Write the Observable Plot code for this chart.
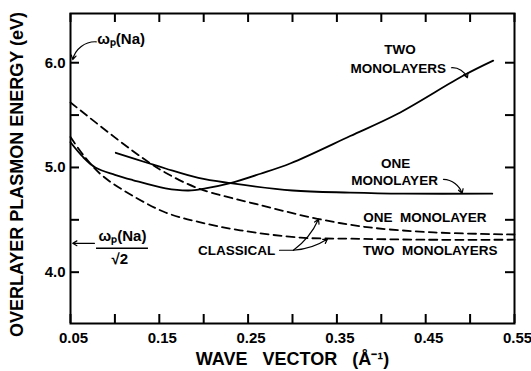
<!DOCTYPE html>
<html><head><meta charset="utf-8">
<script src="https://cdn.jsdelivr.net/npm/d3@7"></script>
<script src="https://cdn.jsdelivr.net/npm/@observablehq/plot@0.6"></script>
<style>body{margin:0;background:#fff}</style>
</head><body><div id="chart"></div>
<script>
// Quantum (solid) and classical (dashed) overlayer plasmon dispersion, [wave vector Å^-1, energy eV]
const quantumTwoMonolayers = [[0.05,5.24],[0.064,5.10],[0.078,5.00],[0.10,4.93],[0.12,4.88],[0.157,4.80],[0.183,4.78],[0.202,4.80],[0.23,4.85],[0.264,4.94],[0.298,5.04],[0.365,5.30],[0.418,5.51],[0.493,5.88],[0.526,6.02]];
const quantumOneMonolayer = [[0.101,5.14],[0.138,5.04],[0.157,4.99],[0.194,4.90],[0.23,4.85],[0.30,4.78],[0.365,4.76],[0.425,4.75],[0.525,4.75]];
const classicalOneMonolayer = [[0.05,5.62],[0.101,5.28],[0.138,5.05],[0.157,4.95],[0.194,4.80],[0.264,4.64],[0.328,4.51],[0.384,4.43],[0.459,4.38],[0.55,4.36]];
const classicalTwoMonolayers = [[0.05,5.29],[0.067,5.09],[0.086,4.92],[0.12,4.73],[0.157,4.57],[0.194,4.48],[0.241,4.40],[0.309,4.33],[0.365,4.32],[0.45,4.31],[0.55,4.31]];

const xTicks = [0.05,0.10,0.15,0.20,0.25,0.30,0.35,0.40,0.45,0.50,0.55];
const xTickLabels = [0.05,0.15,0.25,0.35,0.45,0.55];
const yTicks = [4.0,4.5,5.0,5.5,6.0];
const yTickLabels = [4.0,5.0,6.0];

// annotations (data coordinates)
const labels = [
  {text:"TWO", x:0.421, y:6.124},
  {text:"MONOLAYERS", x:0.419, y:5.943},
  {text:"ONE", x:0.416, y:5.038},
  {text:"MONOLAYER", x:0.415, y:4.876},
  {text:"ONE\u00a0\u00a0MONOLAYER", x:0.449, y:4.524},
  {text:"TWO\u00a0\u00a0MONOLAYERS", x:0.455, y:4.205},
  {text:"CLASSICAL", x:0.237, y:4.205}
];
const omegaLabels = [
  {text:"ωₚ(Na)", x:0.107, y:6.225},
  {text:"ωₚ(Na)", x:0.1086, y:4.34},
  {text:"√2", x:0.1055, y:4.124}
];
const leadersUp = [
  {x1:0.479, y1:5.952, x2:0.497, y2:5.857},
  {x1:0.470, y1:4.886, x2:0.491, y2:4.752}
];
const leadersLeft = [
  {x1:0.079, y1:6.20, x2:0.0525, y2:6.03}
];
const plainArrows = [
  {x1:0.077, y1:4.276, x2:0.0525, y2:4.276}
];
const classicalArrows = [
  {x1:0.301, y1:4.2095, x2:0.3293, y2:4.505},
  {x1:0.301, y1:4.2095, x2:0.3394, y2:4.316}
];
const classicalStub = [[0.2854,4.2095],[0.301,4.2095]];
const fractionBar = [{x1:0.0793, x2:0.1378, y:4.229}];

const px = d => d[0], py = d => d[1];
const W = 531, H = 371, mL = 70, mR = 17, mT = 13, mB = 48, tick = 9;
const innerW = W - mL - mR, innerH = H - mT - mB;
const chart = Plot.plot({
  width: W, height: H,
  marginLeft: mL, marginRight: mR, marginTop: mT, marginBottom: mB,
  x: {domain:[0.05,0.55]},
  y: {domain:[3.51,6.47]},
  style: {fontFamily:"Liberation Sans", fontWeight:"bold", background:"white", color:"black"},
  marks: [
    // inward tick marks on all four sides
    Plot.ruleX(xTicks, {x: d => d, insetTop: innerH - tick, stroke:"black", strokeWidth:2}),
    Plot.ruleX(xTicks, {x: d => d, insetBottom: innerH - tick, stroke:"black", strokeWidth:2}),
    Plot.ruleY(yTicks, {y: d => d, insetRight: innerW - tick, stroke:"black", strokeWidth:2}),
    Plot.ruleY(yTicks, {y: d => d, insetLeft: innerW - tick, stroke:"black", strokeWidth:2}),
    Plot.frame({stroke:"black", strokeWidth:2}),
    Plot.axisX(xTickLabels, {anchor:"bottom", tickSize:0, tickPadding:9, label:null, fontSize:15, dx:3, tickFormat: d3.format(".2f")}),
    Plot.axisY(yTickLabels, {anchor:"left", tickSize:0, tickPadding:5, label:null, fontSize:15, tickFormat: d3.format(".1f")}),
    Plot.text(["OVERLAYER PLASMON ENERGY (eV)"], {frameAnchor:"left", textAnchor:"middle", lineAnchor:"middle", dx:-53, dy:6, rotate:-90, fontSize:18}),
    Plot.text(["WAVE\u00a0\u00a0\u00a0VECTOR\u00a0\u00a0\u00a0(Å⁻¹)"], {frameAnchor:"bottom", textAnchor:"middle", lineAnchor:"middle", dy:36, fontSize:18}),
    Plot.line(quantumTwoMonolayers, {x:px, y:py, curve:"catmull-rom", strokeWidth:1.8}),
    Plot.line(quantumOneMonolayer, {x:px, y:py, curve:"catmull-rom", strokeWidth:1.8}),
    Plot.line(classicalOneMonolayer, {x:px, y:py, curve:"catmull-rom", strokeWidth:1.8, strokeDasharray:"8,5"}),
    Plot.line(classicalTwoMonolayers, {x:px, y:py, curve:"catmull-rom", strokeWidth:1.8, strokeDasharray:"8,5"}),
    Plot.text(labels, {x:"x", y:"y", text:"text", fontSize:13.5}),
    Plot.text(omegaLabels, {x:"x", y:"y", text:"text", fontSize:15}),
    Plot.ruleY(fractionBar, {x1:"x1", x2:"x2", y:"y", strokeWidth:1.5}),
    Plot.arrow(leadersUp, {x1:"x1", y1:"y1", x2:"x2", y2:"y2", bend:35, headLength:6, strokeWidth:1.2}),
    Plot.arrow(leadersLeft, {x1:"x1", y1:"y1", x2:"x2", y2:"y2", bend:-40, headLength:6, strokeWidth:1.2}),
    Plot.arrow(plainArrows, {x1:"x1", y1:"y1", x2:"x2", y2:"y2", headLength:6, strokeWidth:1.2}),
    Plot.line(classicalStub, {x:px, y:py, strokeWidth:1.2}),
    Plot.arrow(classicalArrows, {x1:"x1", y1:"y1", x2:"x2", y2:"y2", bend:-15, headLength:6, strokeWidth:1.2})
  ]
});
document.getElementById("chart").appendChild(chart);
</script>
</body></html>
